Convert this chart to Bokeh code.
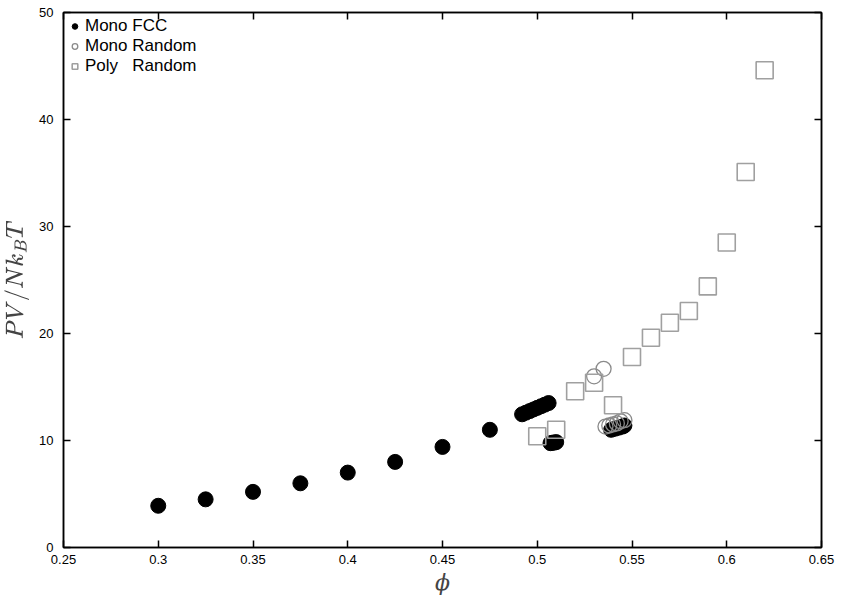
from bokeh.plotting import figure
from bokeh.models import LinearAxis, FixedTicker, Range1d, Legend, LegendItem
from bokeh.embed import file_html
from bokeh.resources import INLINE

# ---- data ----
fcc_phi = [0.300, 0.325, 0.350, 0.375, 0.400, 0.425, 0.450, 0.475,
           0.492, 0.494, 0.496, 0.498, 0.500, 0.502, 0.504, 0.506,
           0.507, 0.508, 0.509, 0.510,
           0.539, 0.541, 0.543, 0.545, 0.546]
fcc_p = [3.9, 4.5, 5.2, 6.0, 7.0, 8.0, 9.4, 11.0,
         12.45, 12.6, 12.75, 12.9, 13.05, 13.2, 13.35, 13.5,
         9.75, 9.8, 9.8, 9.85,
         11.0, 11.1, 11.2, 11.3, 11.4]

rnd_phi = [0.530, 0.535, 0.536, 0.538, 0.540, 0.542, 0.544, 0.546]
rnd_p = [16.0, 16.7, 11.3, 11.4, 11.5, 11.6, 11.8, 11.9]

poly_phi = [0.50, 0.51, 0.52, 0.53, 0.54, 0.55, 0.56, 0.57, 0.58, 0.59, 0.60, 0.61, 0.62]
poly_p = [10.4, 11.0, 14.6, 15.4, 13.3, 17.8, 19.6, 21.0, 22.1, 24.4, 28.5, 35.1, 44.6]

x_ticks = [0.25, 0.3, 0.35, 0.4, 0.45, 0.5, 0.55, 0.6, 0.65]
x_tick_labels = ["0.25", "0.3", "0.35", "0.4", "0.45", "0.5", "0.55", "0.6", "0.65"]
y_ticks = [0, 10, 20, 30, 40, 50]
y_tick_labels = ["0", "10", "20", "30", "40", "50"]

FONT = "Liberation Sans"

p = figure(width=836, height=600, output_backend="svg", toolbar_location=None,
           x_range=Range1d(0.25, 0.65), y_range=Range1d(0, 50),
           min_border_left=63, min_border_right=15, min_border_top=12, min_border_bottom=53)

p.xgrid.visible = False
p.ygrid.visible = False
p.outline_line_color = "black"
p.outline_line_width = 1.5

def style_axis(ax, labels=True):
    ax.axis_line_color = "black"
    ax.axis_line_width = 1.5
    ax.major_tick_in = 7
    ax.major_tick_out = 0
    ax.major_tick_line_color = "black"
    ax.major_tick_line_width = 1.5
    ax.minor_tick_line_color = None
    ax.major_label_text_font = FONT
    ax.major_label_text_font_size = "13px"
    ax.major_label_text_color = "black"
    if not labels:
        ax.major_label_text_color = None
        ax.major_label_text_font_size = "1px"
        ax.major_label_standoff = 0

xa = p.xaxis[0]
xa.ticker = FixedTicker(ticks=x_ticks)
xa.major_label_overrides = {t: l for t, l in zip(x_ticks, x_tick_labels)}
style_axis(xa)
xa.major_label_standoff = 7
xa.axis_label = "ϕ"
xa.axis_label_text_font = "DejaVu Serif"
xa.axis_label_text_font_style = "italic"
xa.axis_label_text_font_size = "22px"
xa.axis_label_standoff = 3

ya = p.yaxis[0]
ya.ticker = FixedTicker(ticks=y_ticks)
ya.major_label_overrides = {t: l for t, l in zip(y_ticks, y_tick_labels)}
style_axis(ya)
ya.major_label_standoff = 10
ya.axis_label = r"$$PV/Nk_BT$$"
ya.axis_label_text_font_size = "21px"
ya.axis_label_standoff = 7

top = LinearAxis(ticker=FixedTicker(ticks=x_ticks))
style_axis(top, labels=False)
p.add_layout(top, "above")
right = LinearAxis(ticker=FixedTicker(ticks=y_ticks))
style_axis(right, labels=False)
p.add_layout(right, "right")

r_fcc = p.scatter(fcc_phi, fcc_p, marker="circle", size=15, fill_color="black", line_color="black")
r_rnd = p.scatter(rnd_phi, rnd_p, marker="circle", size=15, fill_color=None, line_color="#8a8a8a", line_width=1.3)
r_poly = p.scatter(poly_phi, poly_p, marker="square", size=17, fill_color=None, line_color="#a0a0a0", line_width=1.6)

legend = Legend(items=[LegendItem(label="Mono FCC", renderers=[r_fcc]),
                       LegendItem(label="Mono Random", renderers=[r_rnd]),
                       LegendItem(label="Poly   Random", renderers=[r_poly])],
                location="top_left")
legend.border_line_color = None
legend.background_fill_alpha = 0
legend.label_text_font = FONT
legend.label_text_font_size = "17px"
legend.label_text_line_height = 0.9
legend.label_text_color = "black"
legend.spacing = 0
legend.padding = 1
legend.margin = 4
legend.label_height = 14
legend.glyph_height = 14
legend.glyph_width = 15
legend.label_standoff = 3
p.add_layout(legend)

open("out.html", "w").write(file_html(p, INLINE))
